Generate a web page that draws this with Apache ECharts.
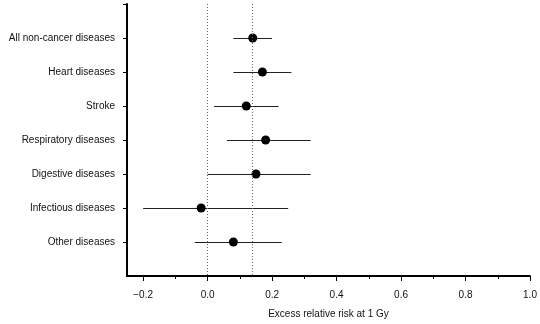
<!DOCTYPE html>
<html>
<head>
<meta charset="utf-8">
<script src="https://cdn.jsdelivr.net/npm/echarts@6/dist/echarts.min.js"></script>
<style>html,body{margin:0;padding:0;background:#fff}#c{width:540px;height:324px}</style>
</head>
<body>
<div id="c"></div>
<script>
var categories = ['All non-cancer diseases','Heart diseases','Stroke','Respiratory diseases','Digestive diseases','Infectious diseases','Other diseases'];
var estimates = [0.14, 0.17, 0.12, 0.18, 0.15, -0.02, 0.08];
var lowerCI = [0.08, 0.08, 0.02, 0.06, 0.00, -0.20, -0.04];
var upperCI = [0.20, 0.26, 0.22, 0.32, 0.32, 0.25, 0.23];
var refLines = [0, 0.14];
var xMajorTicks = [-0.2, 0, 0.2, 0.4, 0.6, 0.8, 1.0];
var xMinorTicks = [-0.1, 0.1, 0.3, 0.5, 0.7, 0.9];
var yTicks = [0, 1, 2, 3, 4, 5, 6, 7];

var font = 'Liberation Sans, Arial, sans-serif';
var pts = estimates.map(function (v, i) { return [v, i + 1]; });
var bars = lowerCI.map(function (v, i) { return [v, upperCI[i], i + 1]; });

var chart = echarts.init(document.getElementById('c'));
chart.setOption({
  animation: false,
  grid: { left: 127, right: 10, top: 4, bottom: 47 },
  xAxis: [{
    type: 'value', min: -0.25, max: 1.0, position: 'bottom',
    axisLine: { show: true, onZero: false, lineStyle: { color: '#000', width: 2 } },
    axisTick: { show: true, customValues: xMajorTicks, length: 5, lineStyle: { color: '#000', width: 1 } },
    axisLabel: {
      customValues: xMajorTicks, margin: 14, color: '#111', fontSize: 10, fontFamily: font,
      formatter: function (v) { return (v < 0 ? '\u2212' : '') + Math.abs(v).toFixed(1); }
    },
    splitLine: { show: false },
    name: 'Excess relative risk at 1 Gy', nameLocation: 'middle', nameGap: 33,
    nameTextStyle: { color: '#111', fontSize: 10, fontFamily: font }
  }, {
    type: 'value', min: -0.25, max: 1.0, position: 'bottom',
    axisLine: { show: false, onZero: false },
    axisTick: { show: true, customValues: xMinorTicks, length: 3, lineStyle: { color: '#000', width: 1 } },
    axisLabel: { show: false },
    splitLine: { show: false }
  }],
  yAxis: {
    type: 'value', min: 0, max: 8, inverse: true, position: 'left',
    axisLine: { show: true, onZero: false, lineStyle: { color: '#000', width: 2 } },
    axisTick: { show: true, customValues: yTicks, length: 4, lineStyle: { color: '#000', width: 1 } },
    axisLabel: {
      customValues: yTicks, margin: 12, color: '#111', fontSize: 10, fontFamily: font,
      formatter: function (v) { return (v >= 1 && v <= categories.length) ? categories[v - 1] : ''; }
    },
    splitLine: { show: false }
  },
  series: [{
    type: 'custom',
    data: bars,
    renderItem: function (params, api) {
      var a = api.coord([api.value(0), api.value(2)]);
      var b = api.coord([api.value(1), api.value(2)]);
      var y = Math.round(a[1]) + 0.5;
      return { type: 'line', shape: { x1: a[0], y1: y, x2: b[0], y2: y },
               style: { stroke: '#222', lineWidth: 1 } };
    },
    encode: { x: [0, 1], y: 2 },
    z: 2
  }, {
    type: 'scatter',
    data: pts,
    symbol: 'circle', symbolSize: 9,
    itemStyle: { color: '#000', opacity: 1 },
    z: 3,
    markLine: {
      silent: true, symbol: 'none', label: { show: false },
      lineStyle: { color: '#666', type: [1, 2], width: 1 },
      data: refLines.map(function (v) { return { xAxis: v }; })
    }
  }]
});
</script>
</body>
</html>
